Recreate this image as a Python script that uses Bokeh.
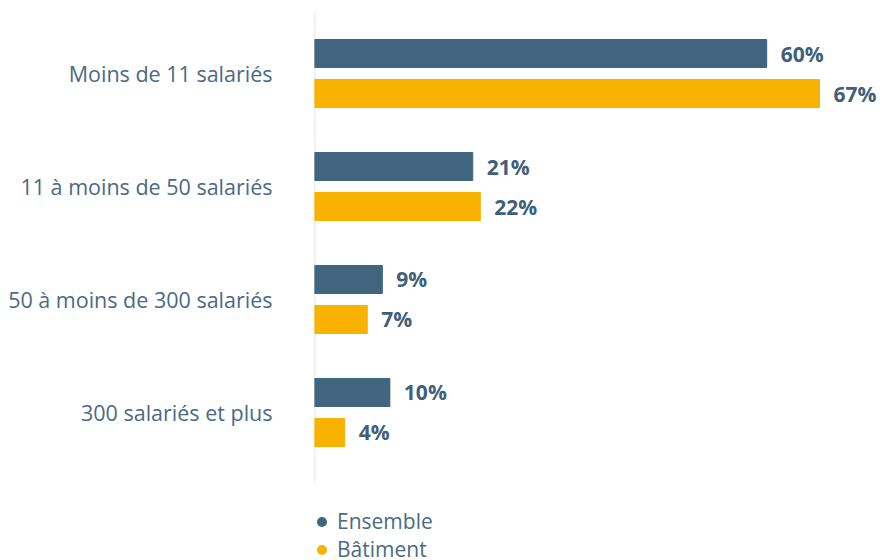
from bokeh.plotting import figure
from bokeh.models import ColumnDataSource, Range1d, FixedTicker, Legend, LegendItem
from bokeh.core.properties import value
from bokeh.embed import file_html
from bokeh.resources import INLINE

categories = ["Moins de 11 salariés", "11 à moins de 50 salariés",
              "50 à moins de 300 salariés", "300 salariés et plus"]
series_names = ["Ensemble", "Bâtiment"]
ensemble = [60, 21, 9, 10]
batiment = [67, 22, 7, 4]

C_ENS = "#41657f"
C_BAT = "#f9b200"
TXT = "#4a6a85"
LAB = "#3f5f7a"
AXIS = "#d8dde8"
FONT = "Open Sans"

pos = [0.0, 1.0, 2.0, 3.0]
off = 0.177
hgt = 0.248
Y_TOP = -0.54      # top of the plotting area
Y_AXIS_END = 3.628  # where the category axis line stops
Y_BOTTOM = 4.31     # bottom of the frame (room for the legend)

p = figure(width=880, height=560, output_backend="svg", toolbar_location=None,
           x_range=Range1d(0, 75.1), y_range=Range1d(Y_BOTTOM, Y_TOP),
           min_border_left=314, min_border_top=12, min_border_right=0, min_border_bottom=0)

# category axis line (stops above the legend)
p.segment(x0=[0], y0=[Y_TOP], x1=[0], y1=[Y_AXIS_END], line_color=AXIS, line_width=1.5)

src_e = ColumnDataSource(dict(y=[v - off for v in pos], x=ensemble,
                              lab=[f"{v}%" for v in ensemble]))
src_b = ColumnDataSource(dict(y=[v + off for v in pos], x=batiment,
                              lab=[f"{v}%" for v in batiment]))

p.hbar(y="y", right="x", left=0, height=hgt, color=C_ENS, source=src_e)
p.hbar(y="y", right="x", left=0, height=hgt, color=C_BAT, source=src_b)

for s in (src_e, src_b):
    p.text(x="x", y="y", text="lab", source=s, x_offset=14, text_align="left",
           text_baseline="middle", text_font=value(FONT), text_font_style="bold",
           text_font_size="21px", text_color=LAB)

p.xaxis.visible = False
p.xgrid.visible = False
p.ygrid.visible = False
p.outline_line_color = None

ax = p.yaxis[0]
ax.ticker = FixedTicker(ticks=pos)
ax.major_label_overrides = {p_: c for p_, c in zip([0, 1, 2, 3], categories)}
ax.major_tick_line_color = None
ax.minor_tick_line_color = None
ax.axis_line_color = None
ax.major_label_standoff = 36
ax.major_label_text_font = FONT
ax.major_label_text_font_size = "21.5px"
ax.major_label_text_color = TXT

# legend-only circle renderers (zero size in the plot; legend draws its own marker size)
r1 = p.scatter(x="x", y="y", source=src_e, marker="circle", size=0,
               fill_color=C_ENS, line_color=None)
r2 = p.scatter(x="x", y="y", source=src_b, marker="circle", size=0,
               fill_color=C_BAT, line_color=None)
legend = Legend(items=[LegendItem(label=series_names[0], renderers=[r1], index=0),
                       LegendItem(label=series_names[1], renderers=[r2], index=0)],
                location=(-5, -3), orientation="vertical",
                margin=0, padding=0, spacing=0, glyph_width=25, glyph_height=25,
                label_height=25, label_standoff=3,
                label_text_font=FONT, label_text_font_size="21px",
                label_text_color=TXT, border_line_color=None,
                background_fill_alpha=0)
p.add_layout(legend, "center")

open("out.html", "w").write(file_html(p, INLINE))
